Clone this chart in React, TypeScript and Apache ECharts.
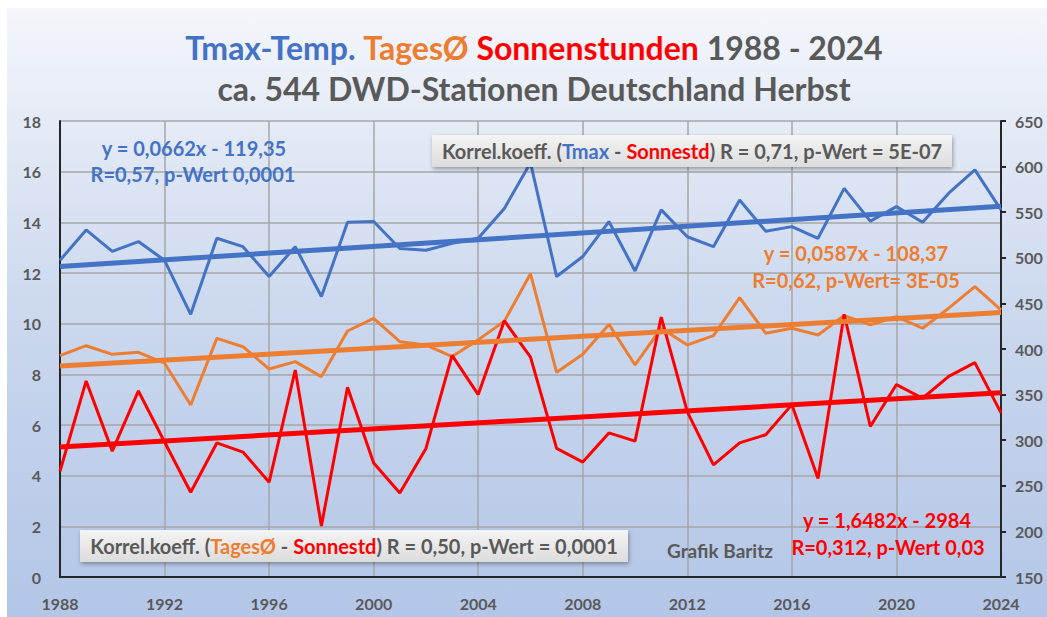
import React, { useEffect, useRef } from "react";
import * as echarts from "echarts";

const years: number[] = [];
for (let y = 1988; y <= 2024; y++) years.push(y);

// Tmax (°C), left axis
const tmax = [
  12.5, 13.7, 12.85, 13.24, 12.5, 10.37, 13.37, 13.04, 11.86, 13.04,
  11.07, 14.0, 14.03, 12.97, 12.9, 13.17, 13.37, 14.55, 16.35, 11.86,
  12.65, 14.03, 12.08, 14.49, 13.43, 13.04, 14.88, 13.65, 13.83, 13.37,
  15.34, 14.05, 14.62, 14.0, 15.15, 16.07, 14.49,
];
// Tages-Mittel (°C), left axis
const tagesMittel = [
  8.74, 9.13, 8.79, 8.87, 8.44, 6.79, 9.42, 9.09, 8.21, 8.5,
  7.91, 9.71, 10.21, 9.29, 9.16, 8.7, 9.36, 10.1, 11.97, 8.08,
  8.79, 9.97, 8.37, 9.82, 9.16, 9.53, 11.03, 9.62, 9.82, 9.55,
  10.32, 9.95, 10.28, 9.82, 10.61, 11.46, 10.54,
];
// Sonnenstunden, right axis
const sonne = [
  266, 365, 288, 354, 298, 243, 297, 287, 254, 377,
  206, 358, 275, 242, 291, 393, 350, 431, 391, 291,
  276, 308, 299, 435, 331, 273, 297, 306, 339, 258,
  438, 315, 361, 346, 370, 385, 330,
];

// Trend equations shown in the chart
const trendTmax = { a: 0.0662, b: -119.35 };
const trendTages = { a: 0.0587, b: -108.37 };
const trendSonne = { a: 1.6482, b: -2984 };

const leftTicks = { min: 0, max: 18, interval: 2 };
const rightTicks = { min: 150, max: 650, interval: 50 };
const xTicks = { min: 1988, max: 2024, interval: 4 };

const BLUE = "#4472c4";
const ORANGE = "#ed7d31";
const RED = "#ff0000";
const GRAY = "#595959";
const FONT = "Lato, 'Open Sans', sans-serif";

function pairs(vals: number[]) {
  return years.map((y, i) => [y, vals[i]]);
}
function trend(t: { a: number; b: number }) {
  const x0 = years[0];
  const x1 = years[years.length - 1];
  return [
    [x0, t.a * x0 + t.b],
    [x1, t.a * x1 + t.b],
  ];
}

function label(x: number, y: number, text: string, fill: string, size = 20) {
  return {
    type: "text",
    z: 21,
    style: {
      x,
      y,
      align: "center",
      verticalAlign: "middle",
      text,
      font: `bold ${size}px ${FONT}`,
      fill,
    },
  };
}

function box(x: number, y: number, w: number, h: number) {
  return {
    type: "rect",
    z: 20,
    shape: { x, y, width: w, height: h },
    style: {
      fill: new echarts.graphic.LinearGradient(0, 0, 0, 1, [
        { offset: 0, color: "#f4f4f4" },
        { offset: 1, color: "#dcdcdc" },
      ]),
      shadowBlur: 4,
      shadowColor: "rgba(0,0,0,0.35)",
      shadowOffsetX: 1,
      shadowOffsetY: 2,
    },
  };
}

export default function App() {
  const ref = useRef<HTMLDivElement>(null);
  useEffect(() => {
    if (!ref.current) return;
    const chart = echarts.init(ref.current, undefined, { renderer: "svg" });
    const labelStyle = {
      color: GRAY,
      fontFamily: FONT,
      fontWeight: "bold" as const,
      fontSize: 16,
    };
    const BF = `bold 20px ${FONT}`;
    const TF = `bold 32px ${FONT}`;
    chart.setOption({
      animation: false,
      backgroundColor: "transparent",
      grid: { left: 60, right: 46, top: 121, bottom: 40, containLabel: false },
      xAxis: {
        type: "value",
        min: xTicks.min,
        max: xTicks.max,
        interval: xTicks.interval,
        axisLine: { show: true, onZero: false, lineStyle: { color: "#262626", width: 2 } },
        axisTick: { show: false },
        axisLabel: { ...labelStyle, margin: 18, formatter: (v: number) => String(v) },
        splitLine: { show: true, lineStyle: { color: "#a6a6a6", width: 1.5 } },
      },
      yAxis: [
        {
          type: "value",
          min: leftTicks.min,
          max: leftTicks.max,
          interval: leftTicks.interval,
          axisLine: { show: true, lineStyle: { color: "#262626", width: 2 } },
          axisTick: { show: false },
          axisLabel: { ...labelStyle, margin: 19 },
          splitLine: { show: true, lineStyle: { color: "#a6a6a6", width: 1.5 } },
        },
        {
          type: "value",
          min: rightTicks.min,
          max: rightTicks.max,
          interval: rightTicks.interval,
          position: "right",
          axisLine: { show: true, lineStyle: { color: "#262626", width: 2 } },
          axisTick: { show: true, length: 5, lineStyle: { color: "#262626", width: 2 } },
          axisLabel: { ...labelStyle, margin: 14 },
          splitLine: { show: false },
        },
      ],
      graphic: [
        {
          type: "rect",
          z: -10,
          silent: true,
          shape: { x: 7, y: 8, width: 1040, height: 609 },
          style: {
            fill: new echarts.graphic.LinearGradient(0, 0, 0, 1, [
              { offset: 0, color: "#f4f6fb" },
              { offset: 0.5, color: "#cbd8ee" },
              { offset: 1, color: "#b3c6e7" },
            ]),
          },
        },
        {
          type: "text",
          z: 10,
          style: {
            x: 534,
            y: 47,
            align: "center",
            verticalAlign: "middle",
            text: "{b|Tmax-Temp.} {o|TagesØ} {r|Sonnenstunden} {g|1988 - 2024}",
            rich: {
              b: { fill: BLUE, font: TF },
              o: { fill: ORANGE, font: TF },
              r: { fill: RED, font: TF },
              g: { fill: GRAY, font: TF },
            },
            font: TF,
            fill: GRAY,
          },
        },
        {
          type: "text",
          z: 10,
          style: {
            x: 534,
            y: 88,
            align: "center",
            verticalAlign: "middle",
            text: "ca. 544 DWD-Stationen Deutschland Herbst",
            font: TF,
            fill: GRAY,
          },
        },
        box(432, 135, 520, 32),
        {
          type: "text",
          z: 21,
          style: {
            x: 692,
            y: 151,
            align: "center",
            verticalAlign: "middle",
            text: "{g|Korrel.koeff. (}{b|Tmax}{g| - }{r|Sonnestd}{g|) R = 0,71, p-Wert = 5E-07}",
            rich: {
              g: { fill: GRAY, font: BF },
              b: { fill: BLUE, font: BF },
              r: { fill: RED, font: BF },
            },
            font: BF,
          },
        },
        box(80, 530, 548, 32),
        {
          type: "text",
          z: 21,
          style: {
            x: 354,
            y: 546,
            align: "center",
            verticalAlign: "middle",
            text: "{g|Korrel.koeff. (}{o|TagesØ}{g| - }{r|Sonnestd}{g|) R = 0,50, p-Wert = 0,0001}",
            rich: {
              g: { fill: GRAY, font: BF },
              o: { fill: ORANGE, font: BF },
              r: { fill: RED, font: BF },
            },
            font: BF,
          },
        },
        label(720, 550, "Grafik Baritz", GRAY, 19),
        label(194, 148, "y = 0,0662x - 119,35", BLUE),
        label(193, 174, "R=0,57, p-Wert 0,0001", BLUE),
        label(856, 253, "y = 0,0587x - 108,37", ORANGE),
        label(856, 280, "R=0,62, p-Wert= 3E-05", ORANGE),
        label(887, 520, "y = 1,6482x - 2984", RED),
        label(888, 547, "R=0,312, p-Wert 0,03", RED),
      ],
      series: [
        {
          name: "Tmax",
          type: "line",
          yAxisIndex: 0,
          data: pairs(tmax),
          symbol: "none",
          lineStyle: { color: BLUE, width: 3 },
          z: 3,
        },
        {
          name: "TagesØ",
          type: "line",
          yAxisIndex: 0,
          data: pairs(tagesMittel),
          symbol: "none",
          lineStyle: { color: ORANGE, width: 3 },
          z: 3,
        },
        {
          name: "Sonnenstunden",
          type: "line",
          yAxisIndex: 1,
          data: pairs(sonne),
          symbol: "none",
          lineStyle: { color: RED, width: 3 },
          z: 3,
        },
        {
          name: "Trend Tmax",
          type: "line",
          yAxisIndex: 0,
          data: trend(trendTmax),
          symbol: "none",
          lineStyle: { color: BLUE, width: 5 },
          z: 4,
        },
        {
          name: "Trend TagesØ",
          type: "line",
          yAxisIndex: 0,
          data: trend(trendTages),
          symbol: "none",
          lineStyle: { color: ORANGE, width: 5 },
          z: 4,
        },
        {
          name: "Trend Sonne",
          type: "line",
          yAxisIndex: 1,
          data: trend(trendSonne),
          symbol: "none",
          lineStyle: { color: RED, width: 5 },
          z: 4,
        },
      ],
    });
    return () => chart.dispose();
  }, []);
  return (
    <div
      style={{
        position: "absolute",
        left: 0,
        top: 0,
        width: 1047,
        height: 617,
        background: "#ffffff",
        overflow: "hidden",
      }}
    >
      <div ref={ref} style={{ width: 1047, height: 617 }} />
    </div>
  );
}
